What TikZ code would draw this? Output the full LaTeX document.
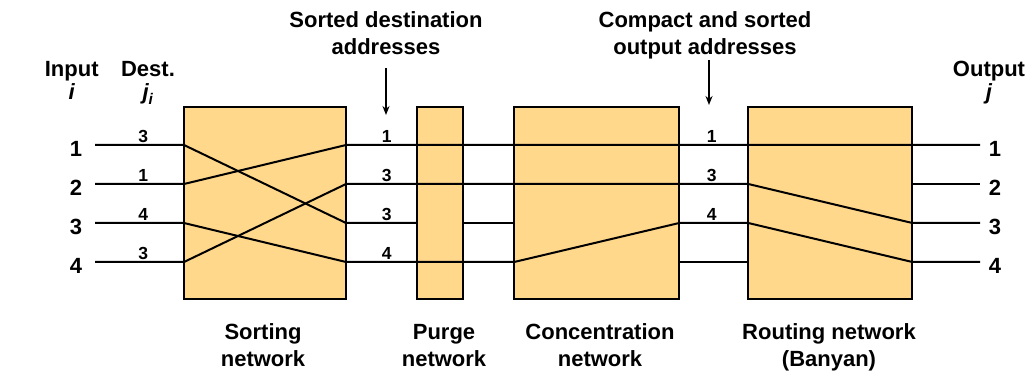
\documentclass[tikz,border=0pt]{standalone}
\usepackage{fontspec}
\setmainfont{Liberation Sans}
\usetikzlibrary{positioning,calc,arrows.meta}
\definecolor{netfill}{RGB}{255,216,140}

\begin{document}
\begin{tikzpicture}[x=1pt,y=-1pt,
    big/.style={font=\fontsize{22}{27}\selectfont\bfseries,inner sep=0pt},
    addr/.style={font=\fontsize{17.5}{20}\selectfont\bfseries,inner sep=0pt,anchor=base},
    net/.style={draw,line width=2pt,fill=netfill,inner sep=0pt,outer sep=0pt,
                minimum height=192pt},
    wire/.style={line width=2pt},
    pointer/.style={line width=1.5pt,-{Stealth[length=9pt,width=7pt]}}]
    \useasboundingbox (0,0) rectangle (1030,371);
    % the four networks
    \node[net,minimum width=162pt] (sort)  at (265,203)   {};
    \node[net,minimum width=46pt]  (purge) at (440,203)   {};
    \node[net,minimum width=165pt] (conc)  at (596.7,203) {};
    \node[net,minimum width=164pt] (route) at (830.3,203) {};
    % row ends
    \foreach \r/\y in {1/145,2/184,3/223,4/262} {
      \coordinate (in\r)  at (95,\y);
      \coordinate (out\r) at (980,\y);
      \node[big] (inl\r)  at (76,\y+4)  {\r};
      \node[big] (outl\r) at (995,\y+4) {\r};
    }
    % wires
    \draw[wire] (in1) -- (sort.west |- in1) -- (sort.east |- in3) -- (purge.west |- in3);
    \draw[wire] (in2) -- (sort.west |- in2) -- (sort.east |- in1) -- (out1);
    \draw[wire] (in3) -- (sort.west |- in3) -- (sort.east |- in4) -- (conc.west |- in4)
                -- (conc.east |- in3) -- (route.west |- in3) -- (route.east |- in4) -- (out4);
    \draw[wire] (in4) -- (sort.west |- in4) -- (sort.east |- in2) -- (route.west |- in2)
                -- (route.east |- in3) -- (out3);
    \draw[wire] (purge.east |- in3) -- (conc.west |- in3);
    \draw[wire] (conc.east |- in4) -- (route.west |- in4);
    \draw[wire] (route.east |- in2) -- (out2);
    % addresses on the wires
    \foreach \r/\y/\a/\b in {1/145/3/1,2/184/1/3,3/223/4/3,4/262/3/4} {
      \node[addr] (dst\r) at (143.3,\y-2) {\a};
      \node[addr] (srt\r) at (386.7,\y-2) {\b};
    }
    \foreach \r/\y/\c in {1/145/1,2/184/3,3/223/4}
      \node[addr] (cmp\r) at (711.7,\y-2) {\c};
    % headings
    \node[big,anchor=base] (inhead)   at (71.7,77)  {Input};
    \node[big,anchor=base] (ini)      at (71.7,100) {\itshape i};
    \node[big,anchor=base] (desthead) at (148,77)   {Dest.};
    \node[big,anchor=base] (destj)    at (148,100)  {\itshape j\textsubscript{i}};
    \node[big,anchor=base] (outhead)  at (989,77)   {Output};
    \node[big,anchor=base] (outj)     at (989,100)  {\itshape j};
    \node[big,anchor=base,align=center] (sortlbl) at (386,55)
         {Sorted destination\\addresses};
    \node[big,anchor=base,align=center] (cmplbl) at (705,55)
         {Compact and sorted\\output addresses};
    \coordinate (sortpt) at (386,115);
    \coordinate (cmppt)  at (709,105);
    \draw[pointer] (sortlbl.south -| sortpt) ++(0,13) -- (sortpt);
    \draw[pointer] (cmplbl.south -| cmppt) -- (cmppt);
    % network names
    \node[big,anchor=base,align=center] (sortname)  at (263,366) {Sorting\\network};
    \node[big,anchor=base,align=center] (purgename) at (444,366) {Purge\\network};
    \node[big,anchor=base,align=center] (concname)  at (600,366) {Concentration\\network};
    \node[big,anchor=base,align=center] (routename) at (829,366) {Routing network\\(Banyan)};
\end{tikzpicture}
\end{document}
